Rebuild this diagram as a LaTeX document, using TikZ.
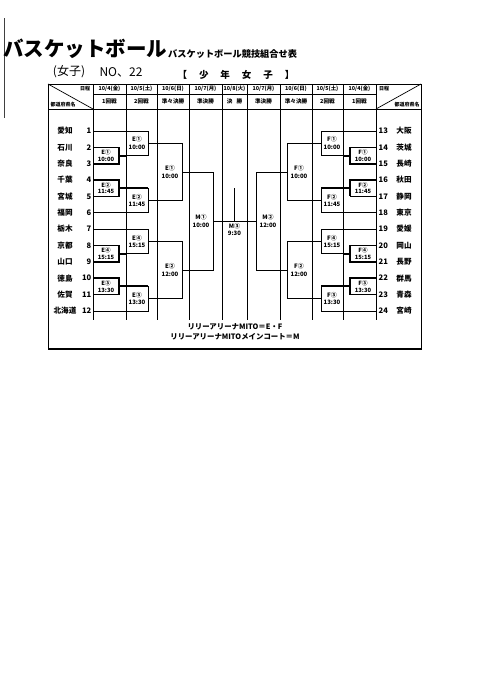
\documentclass[tikz,border=0pt]{standalone}
\usepackage{fontspec}
\setmainfont{Noto Sans CJK JP}
\newcommand\myfs[2]{\fontsize{#1}{#2}\selectfont}
% one half of the bracket, drawn in left-side coordinates
\newcommand\bside[3]{%
  % first-round boxes
  \draw[ln] (93,147.35) rectangle (119,163.7);
  \draw[ln] (93,180.05) rectangle (119,196.4);
  \draw[ln] (93,245.45) rectangle (119,261.8);
  \draw[ln] (93,278.15) rectangle (119,294.5);
  \draw[thk] (93,163.7) -| (119,147.35);
  \draw[thk] (93,180.05) -| (119,196.4);
  \draw[thk] (93,261.8) -| (119,245.45);
  \draw[thk] (93,278.15) -| (119,294.5);
  \draw[thk] (119,155.525) -- (126,155.525);
  \draw[thk] (119,188.225) -- (148,188.225);
  \draw[thk] (119,253.625) -- (126,253.625);
  \draw[thk] (119,286.325) -- (148,286.325);
  % seeded teams
  \draw[ln] (93,131) -- (126,131);
  \draw[ln] (93,212.75) -- (126,212.75);
  \draw[ln] (93,229.1) -- (126,229.1);
  \draw[ln] (93,310.85) -- (126,310.85);
  % second-round boxes
  \draw[ln] (126,131) rectangle (148,155.525);
  \draw[ln] (126,188.225) rectangle (148,212.75);
  \draw[ln] (126,229.1) rectangle (148,253.625);
  \draw[ln] (126,286.325) rectangle (148,310.85);
  % quarter finals
  \draw[ln] (148,143.26) -| (182,200.49) -- (148,200.49);
  \draw[ln] (148,241.36) -| (182,298.59) -- (148,298.59);
  % semi final
  \draw[ln] (182,171.875) -| (213,269.975) -- (182,269.975);
  % labels
  \node[laba] (#1a1) at (106,155.525) {#2①\\10:00};
  \node[laba] (#1a2) at (106,188.225) {#2②\\11:45};
  \node[laba] (#1a4) at (106,253.625) {#2④\\15:15};
  \node[laba] (#1a3) at (106,286.325) {#2③\\13:30};
  \node[lab] (#1b1) at (137,143.26) {#2①\\10:00};
  \node[lab] (#1b2) at (137,200.49) {#2②\\11:45};
  \node[lab] (#1b4) at (137,241.36) {#2④\\15:15};
  \node[lab] (#1b3) at (137,298.59) {#2③\\13:30};
  \node[lab] (#1c1) at (170,171.875) {#2①\\10:00};
  \node[lab] (#1c2) at (170,269.975) {#2②\\12:00};
  \node[lab] (#1d) at (201,220.925) {#3};
}
\begin{document}
\begin{tikzpicture}[x=1pt,y=-1pt,
  ln/.style={line width=0.7pt},
  thk/.style={line width=2pt},
  lab/.style={font=\myfs{6}{7.6}\bfseries, align=center, inner sep=0pt},
  laba/.style={font=\myfs{5.8}{6.6}\bfseries, align=center, inner sep=0pt},
  team/.style={font=\myfs{7.6}{8}\bfseries, inner sep=0pt},
  hdate/.style={font=\myfs{5.4}{6}\bfseries, inner sep=0pt},
  hround/.style={font=\myfs{5.6}{6}\bfseries, inner sep=0pt},
  hsmall/.style={font=\myfs{5}{5}\bfseries, inner sep=0pt},
  note/.style={font=\myfs{7.4}{7.4}\bfseries, inner sep=0pt}]
\fill[white] (0,0) rectangle (478,680);
\useasboundingbox (0,0) rectangle (478,680);

% scan edge line
\draw[line width=0.8pt, black!75] (4,18) -- (4,118);

% titles
\node[font=\myfs{20.5}{20.5}\bfseries, anchor=west, inner sep=0pt] (title) at (3,49) {バスケットボール};
\node[font=\myfs{9.2}{9.2}\bfseries, anchor=west, inner sep=0pt] (subtitle) at (168,54) {バスケットボール競技組合せ表};
\node[font=\myfs{12}{12}, inner sep=0pt] (girls) at (69,72) {(女子)};
\node[font=\myfs{12}{12}, inner sep=0pt] (num) at (121,72) {NO、22};
\node[font=\myfs{9.5}{9.5}\bfseries, inner sep=0pt] (cat) at (236,75) {【\hspace{12pt}少\hspace{12pt}年\hspace{12pt}女\hspace{12pt}子\hspace{12pt}】};

% table frame
\draw[line width=1pt] (48,84) rectangle (421,349);
\draw[line width=1.6pt] (48,349) -- (421,349);
\foreach \x in {93,126,157,189,222,247,280,312,343,376}
  \draw[ln] (\x,84) -- (\x,320);
\draw[ln] (93,94) -- (376,94);
\draw[ln] (48,109) -- (421,109);
\draw[ln] (48,84) -- (93,109);
\draw[ln] (376,109) -- (421,84);

% header texts
\node[hsmall] (lday) at (85,88.5) {日程};
\node[hsmall] (lpref) at (63,104.5) {都道府県名};
\node[hsmall] (rday) at (384,88.5) {日程};
\node[hsmall] (rpref) at (407,104.5) {都道府県名};
\foreach \x/\d/\r [count=\k] in {109.5/{10/4(金)}/1回戦, 141.5/{10/5(土)}/2回戦, 173/{10/6(日)}/準々決勝, 205.5/{10/7(月)}/準決勝, 234.5/{10/8(火)}/{決\hspace{4pt}勝}, 263.5/{10/7(月)}/準決勝, 296/{10/6(日)}/準々決勝, 327.5/{10/5(土)}/2回戦, 359.5/{10/4(金)}/1回戦}{
  \node[hdate] (date\k) at (\x,89) {\d};
  \node[hround] (round\k) at (\x,101.5) {\r};
}

% teams
\foreach \i/\nm in {1/愛知,2/石川,3/奈良,4/千葉,5/宮城,6/福岡,7/栃木,8/京都,9/山口,10/徳島,11/佐賀,12/北海道}{
  \node[team] (ln\i) at (65,{131+(\i-1)*16.35}) {\nm};
  \node[team, anchor=east] (lk\i) at (91.5,{131+(\i-1)*16.35}) {\i};
}
\foreach \i/\nm in {13/大阪,14/茨城,15/長崎,16/秋田,17/静岡,18/東京,19/愛媛,20/岡山,21/長野,22/群馬,23/青森,24/宮崎}{
  \node[team] (rn\i) at (404,{131+(\i-13)*16.35}) {\nm};
  \node[team, anchor=west] (rk\i) at (378.5,{131+(\i-13)*16.35}) {\i};
}

% brackets
\bside{L}{E}{M①\\10:00}
\begin{scope}[xshift=469pt, xscale=-1]
\bside{R}{F}{M②\\12:00}
\end{scope}

% final
\draw[ln] (213,220.925) -- (256,220.925);
\draw[ln] (234.5,188) -- (234.5,220.925);
\node[lab, anchor=north] (final) at (234.5,223) {M③\\9:30};

% notes
\node[note] (note1) at (235,327) {リリーアリーナMITO＝E・F};
\node[note] (note2) at (235,336.5) {リリーアリーナMITOメインコート＝M};
\end{tikzpicture}
\end{document}
